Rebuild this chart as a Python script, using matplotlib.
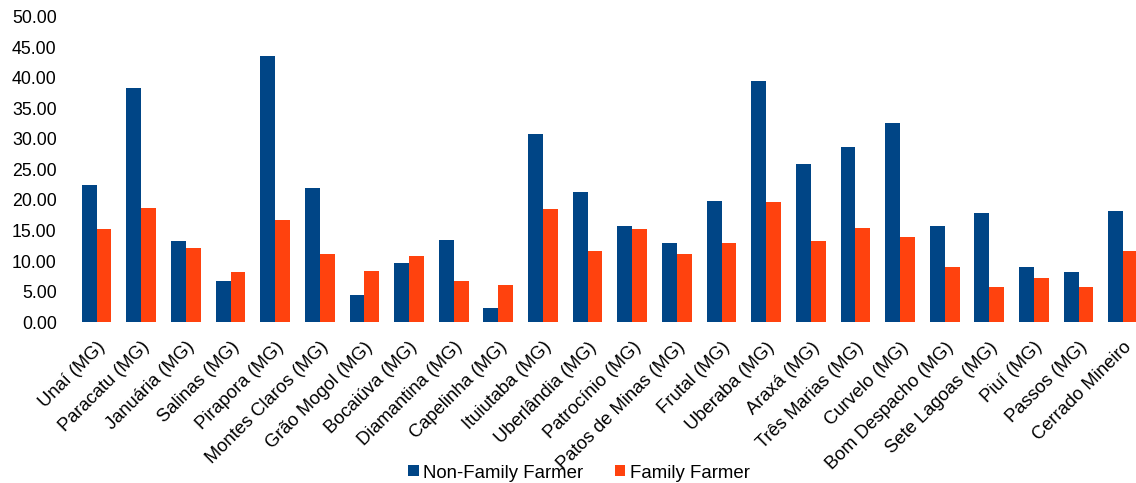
import matplotlib
matplotlib.use('Agg')
import matplotlib.pyplot as plt
import matplotlib.transforms as mtransforms
import numpy as np

# Regions (x categories)
regions = ['Unaí (MG)', 'Paracatu (MG)', 'Januária (MG)', 'Salinas (MG)', 'Pirapora (MG)',
           'Montes Claros (MG)', 'Grão Mogol (MG)', 'Bocaiúva (MG)', 'Diamantina (MG)',
           'Capelinha (MG)', 'Ituiutaba (MG)', 'Uberlândia (MG)', 'Patrocínio (MG)',
           'Patos de Minas (MG)', 'Frutal (MG)', 'Uberaba (MG)', 'Araxá (MG)',
           'Três Marias (MG)', 'Curvelo (MG)', 'Bom Despacho (MG)', 'Sete Lagoas (MG)',
           'Piuí (MG)', 'Passos (MG)', 'Cerrado Mineiro']

# Series values
non_family = [22.5, 38.3, 13.3, 6.8, 43.6, 21.9, 4.5, 9.75, 13.4, 2.4, 30.8, 21.3,
              15.75, 13.0, 19.9, 39.5, 25.85, 28.6, 32.6, 15.75, 17.8, 9.0, 8.25, 18.25]
family = [15.2, 18.65, 12.2, 8.15, 16.8, 11.25, 8.35, 10.85, 6.8, 6.05, 18.5, 11.65,
          15.3, 11.15, 13.0, 19.75, 13.3, 15.4, 14.0, 9.0, 5.75, 7.3, 5.8, 11.65]

yticks = np.arange(0, 50.01, 5)

blue = '#004586'
orange = '#ff420e'

plt.rcParams['font.family'] = ['Liberation Sans', 'DejaVu Sans']

fig = plt.figure(figsize=(11.36, 4.83), dpi=100)
# axes runs a bit past the right edge, the original chart is cropped there
ax = fig.add_axes([0.0654, 0.3327, 0.943, 0.6331])

x = np.arange(len(regions))
w = 1 / 3
ax.bar(x - w / 2, non_family, w, color=blue, label='Non-Family Farmer')
ax.bar(x + w / 2, family, w, color=orange, label='Family Farmer')

ax.set_xlim(-0.5, len(regions) - 0.5)
ax.set_ylim(0, 50)
ax.set_yticks(yticks)
ax.set_yticklabels(['%.2f' % v for v in yticks], fontsize=12.8)
ax.set_xticks(x)
ax.set_xticklabels(regions, rotation=45, ha='right', va='center',
                   rotation_mode='anchor', fontsize=13.2)
ax.tick_params(axis='y', length=0, pad=12.7)
ax.tick_params(axis='x', length=0, pad=16)
# nudge rotated labels a little to the right
shift = mtransforms.ScaledTranslation(6 / 100, 0, fig.dpi_scale_trans)
for lbl in ax.get_xticklabels():
    lbl.set_transform(lbl.get_transform() + shift)
for s in ax.spines.values():
    s.set_visible(False)

fig.legend(loc='center', bbox_to_anchor=(0.5097, 1 - 473 / 483), ncol=2,
           frameon=False, fontsize=13.4, handlelength=0.54, handleheight=0.54,
           handletextpad=0.25, columnspacing=1.7, borderaxespad=0)

fig.savefig('out.png', dpi=100)
